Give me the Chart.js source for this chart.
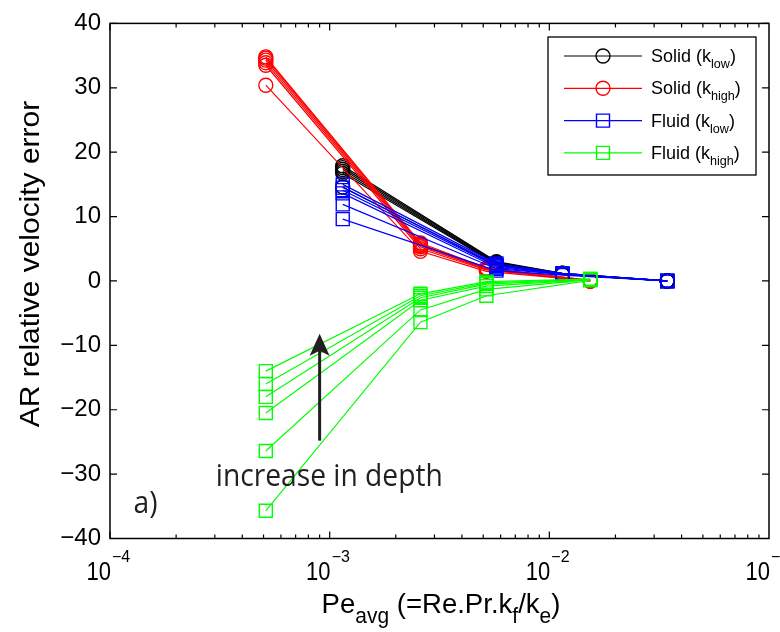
<!DOCTYPE html>
<html>
<head>
<meta charset="utf-8">
<script src="https://cdn.jsdelivr.net/npm/chart.js@4.4.1/dist/chart.umd.min.js"></script>
<style>
  html, body { margin: 0; padding: 0; background: #fff; }
  #wrap { width: 780px; height: 632px; }
</style>
</head>
<body>
<div id="wrap"><canvas id="grafico" width="780" height="632"></canvas></div>
<script>
// eixos
const xTicks = [1e-4, 1e-3, 1e-2, 1e-1];
const xTickExp = ["\u22124", "\u22123", "\u22122", "\u22121"];
const yTicks = [-40, -30, -20, -10, 0, 10, 20, 30, 40];

// posicoes Pe_avg de cada caso
const xSolidLow = [1.147e-3, 5.74e-3, 1.146e-2, 3.44e-2];
const xSolidHigh = [5.12e-4, 2.59e-3, 5.17e-3, 1.535e-2];
const xFluidLow = [1.147e-3, 5.74e-3, 1.146e-2, 3.44e-2];
const xFluidHigh = [5.12e-4, 2.59e-3, 5.17e-3, 1.535e-2];

// erro relativo (%), uma linha por profundidade
const solidLow = [
  [17.9, 3.0, 1.2, 0.0],
  [17.6, 2.9, 1.2, 0.0],
  [17.3, 2.8, 1.1, 0.0],
  [17.0, 2.7, 1.1, 0.0],
  [16.7, 2.6, 1.0, 0.0],
  [14.6, 2.4, 1.0, 0.0]
];
const solidHigh = [
  [34.8, 5.9, 2.0, 0.1],
  [34.6, 5.7, 1.9, 0.1],
  [34.3, 5.5, 1.9, 0.0],
  [33.9, 5.3, 1.8, 0.0],
  [33.5, 5.0, 1.7, 0.0],
  [30.4, 4.6, 1.5, 0.0]
];
const fluidLow = [
  [15.0, 2.7, 1.2, 0.0],
  [14.5, 2.5, 1.1, 0.0],
  [14.1, 2.3, 1.1, 0.0],
  [13.6, 2.1, 1.0, 0.0],
  [11.9, 1.9, 1.0, 0.0],
  [9.6, 1.6, 0.9, 0.0]
];
const fluidHigh = [
  [-14.0, -2.0, -0.1, 0.3],
  [-16.0, -2.3, -0.3, 0.3],
  [-18.0, -2.6, -0.5, 0.2],
  [-20.5, -3.0, -0.8, 0.2],
  [-26.4, -4.5, -1.3, 0.2],
  [-35.7, -6.4, -2.3, 0.1]
];

const series = [
  { nome: "Solid", sub: "low", xs: xSolidLow, linhas: solidLow, cor: "#000000", marca: "circle", ordem: 3 },
  { nome: "Solid", sub: "high", xs: xSolidHigh, linhas: solidHigh, cor: "#ff0000", marca: "circle", ordem: 2 },
  { nome: "Fluid", sub: "low", xs: xFluidLow, linhas: fluidLow, cor: "#0000ff", marca: "rect", ordem: 1 },
  { nome: "Fluid", sub: "high", xs: xFluidHigh, linhas: fluidHigh, cor: "#00ff00", marca: "rect", ordem: 0 }
];

const FONTE = "'Liberation Sans', Arial, sans-serif";
const FONTE_NOTA = "'Open Sans', 'Noto Sans', sans-serif";

function raioMarca(marca) {
  return marca === "rect" ? 9.2 : 7;
}

const datasets = [];
series.forEach((s) => {
  s.linhas.forEach((linha) => {
    datasets.push({
      data: linha.map((v, i) => ({ x: s.xs[i], y: v })),
      borderColor: s.cor,
      borderWidth: 1.2,
      pointStyle: s.marca,
      pointRadius: raioMarca(s.marca),
      pointBorderColor: s.cor,
      pointBackgroundColor: "rgba(0,0,0,0)",
      pointBorderWidth: 1.4,
      tension: 0,
      fill: false,
      order: s.ordem
    });
  });
});

// texto com subscrito / sobrescrito
function textoMisto(ctx, partes, x, y, tam, fator) {
  const f = fator || 0.7;
  let cx = x;
  partes.forEach((p) => {
    let t = tam, dy = 0;
    if (p[1] === "sub") { t = tam * f; dy = tam * 0.34; }
    if (p[1] === "sup") { t = tam * f; dy = -tam * 0.5; }
    ctx.font = t + "px " + FONTE;
    ctx.fillText(p[0], cx, y + dy);
    cx += ctx.measureText(p[0]).width;
  });
  return cx - x;
}

function larguraMista(ctx, partes, tam, fator) {
  const f = fator || 0.7;
  let w = 0;
  partes.forEach((p) => {
    const t = p[1] === "n" ? tam : tam * f;
    ctx.font = t + "px " + FONTE;
    w += ctx.measureText(p[0]).width;
  });
  return w;
}

const moldura = {
  id: "moldura",
  afterDraw(chart) {
    const ctx = chart.ctx;
    const a = chart.chartArea;
    const sx = chart.scales.x;
    const sy = chart.scales.y;

    ctx.save();
    ctx.strokeStyle = "#000";
    ctx.lineWidth = 1.5;
    ctx.strokeRect(a.left, a.top, a.right - a.left, a.bottom - a.top);

    ctx.lineWidth = 1.2;
    ctx.beginPath();
    yTicks.forEach((v) => {
      const py = sy.getPixelForValue(v);
      ctx.moveTo(a.left, py); ctx.lineTo(a.left + 7, py);
      ctx.moveTo(a.right, py); ctx.lineTo(a.right - 7, py);
    });
    for (let d = -4; d <= -2; d++) {
      for (let m = 1; m <= 9; m++) {
        const px = sx.getPixelForValue(m * Math.pow(10, d));
        const len = m === 1 ? 7 : 4;
        ctx.moveTo(px, a.bottom); ctx.lineTo(px, a.bottom - len);
        ctx.moveTo(px, a.top); ctx.lineTo(px, a.top + len);
      }
    }
    ctx.stroke();

    // rotulos do eixo x (10^n)
    ctx.fillStyle = "#000";
    ctx.textBaseline = "alphabetic";
    ctx.textAlign = "left";
    xTicks.forEach((v, i) => {
      const px = sx.getPixelForValue(v);
      ctx.save();
      ctx.translate(px, 580);
      ctx.scale(0.88, 1.05);
      ctx.font = "25px " + FONTE;
      ctx.textAlign = "right";
      ctx.fillText("10", 1, 0);
      ctx.restore();
      ctx.font = "16px " + FONTE;
      ctx.fillText(xTickExp[i], px + 2, 562);
    });

    // titulo do eixo x
    const tituloX = [["Pe", "n"], ["avg", "sub"], [" (=Re.Pr.k", "n"], ["f", "sub"], ["/k", "n"], ["e", "sub"], [")", "n"]];
    const wx = larguraMista(ctx, tituloX, 26, 0.76);
    const ex = 1.06;
    ctx.save();
    ctx.translate(441 - wx * ex / 2, 613);
    ctx.scale(ex, 1.08);
    textoMisto(ctx, tituloX, 0, 0, 26, 0.76);
    ctx.restore();

    // titulo do eixo y
    ctx.save();
    ctx.translate(39, 264);
    ctx.rotate(-Math.PI / 2);
    ctx.scale(1.07, 1);
    ctx.font = "28px " + FONTE;
    ctx.textAlign = "center";
    ctx.fillText("AR relative velocity error", 0, 0);
    ctx.restore();

    // legenda
    const lx = 548, ly = 37, lw = 208, lh = 138;
    ctx.fillStyle = "#fff";
    ctx.fillRect(lx, ly, lw, lh);
    ctx.strokeStyle = "#000";
    ctx.lineWidth = 1.3;
    ctx.strokeRect(lx, ly, lw, lh);
    series.forEach((s, i) => {
      const ry = 56 + i * 32.3;
      ctx.strokeStyle = s.cor;
      ctx.lineWidth = 1.2;
      ctx.beginPath();
      ctx.moveTo(564, ry); ctx.lineTo(642, ry);
      ctx.stroke();
      ctx.lineWidth = 1.4;
      ctx.beginPath();
      if (s.marca === "circle") {
        ctx.arc(603, ry, 7, 0, Math.PI * 2);
      } else {
        ctx.rect(596.5, ry - 6.5, 13, 13);
      }
      ctx.stroke();
      ctx.fillStyle = "#000";
      textoMisto(ctx, [[s.nome + " (k", "n"], [s.sub, "sub"], [")", "n"]], 651, ry + 6, 18);
    });

    // anotacoes
    const seta = sx.getPixelForValue(9.0e-4);
    const base = sy.getPixelForValue(-24.8);
    const ponta = sy.getPixelForValue(-8.2);
    ctx.strokeStyle = "#231f20";
    ctx.fillStyle = "#231f20";
    ctx.lineWidth = 3;
    ctx.beginPath();
    ctx.moveTo(seta, base); ctx.lineTo(seta, ponta + 14);
    ctx.stroke();
    ctx.beginPath();
    ctx.moveTo(seta, ponta);
    ctx.lineTo(seta + 10, ponta + 22);
    ctx.lineTo(seta, ponta + 17);
    ctx.lineTo(seta - 10, ponta + 22);
    ctx.closePath();
    ctx.fill();

    ctx.font = "31px " + FONTE_NOTA;
    ctx.textAlign = "left";
    ctx.save();
    ctx.translate(sx.getPixelForValue(3.03e-4), sy.getPixelForValue(-31.9));
    ctx.scale(0.91, 1);
    ctx.fillText("increase in depth", 0, 0);
    ctx.restore();
    ctx.save();
    ctx.translate(sx.getPixelForValue(1.28e-4), sy.getPixelForValue(-36.0));
    ctx.scale(0.91, 1);
    ctx.fillText("a)", 0, 0);
    ctx.restore();
    ctx.restore();
  }
};

new Chart(document.getElementById("grafico"), {
  type: "line",
  data: { datasets: datasets },
  options: {
    responsive: false,
    animation: false,
    devicePixelRatio: 1,
    layout: { padding: { top: 22, right: 11, left: 0, bottom: 0 } },
    plugins: {
      legend: { display: false },
      tooltip: { enabled: false }
    },
    scales: {
      x: {
        type: "logarithmic",
        min: 1e-4,
        max: 1e-1,
        grid: { display: false, drawTicks: false },
        border: { display: false },
        ticks: { display: false },
        afterFit(scale) { scale.height = 93.5; }
      },
      y: {
        min: -40,
        max: 40,
        grid: { display: false, drawTicks: false },
        border: { display: false },
        ticks: {
          stepSize: 10,
          padding: 9,
          color: "#000",
          font: { family: FONTE, size: 24 },
          callback: (v) => String(v).replace("-", "\u2212")
        },
        afterFit(scale) { scale.width = 110; }
      }
    }
  },
  plugins: [moldura]
});
</script>
</body>
</html>
